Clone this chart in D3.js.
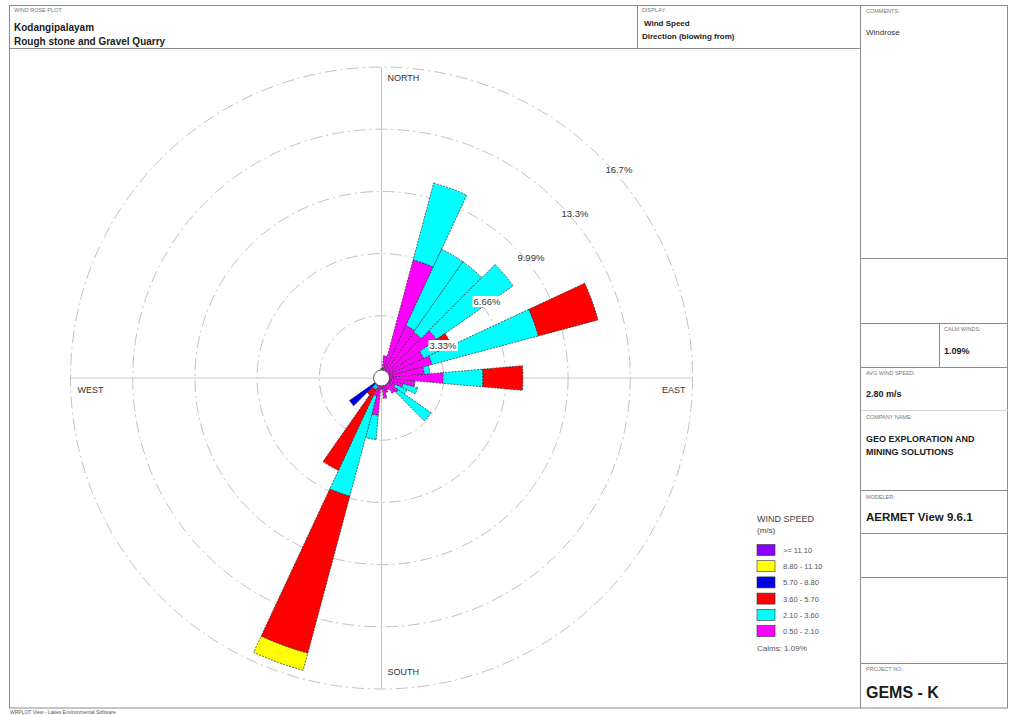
<!DOCTYPE html>
<html>
<head>
<meta charset="utf-8">
<script src="https://cdn.jsdelivr.net/npm/d3@7"></script>
<style>
  body { margin: 0; background: #fff; }
  svg { display: block; }
  text { font-family: "Liberation Sans", Arial, Helvetica, sans-serif; }
</style>
</head>
<body>
<svg id="chart" width="1009" height="715"></svg>
<script>
// Wind directions (blowing from), 10-degree sectors
const directions = d3.range(10, 361, 10);

// Frequency (%) of each wind speed class per direction, 10°..360°
const speed050to210 = [1.2, 6.55, 3.1, 3.0, 3.6, 2.5, 2.8, 2.3, 3.3, 1.8, 1.2, 0.8, 1.1, 1.0, 0.7, 0.8, 1.1, 0.6,
                       2.0, 1.0, 0.3, 0.4, 0.2, 0.4, 0.3, 0.3, 0.3, 0.3, 0.3, 0.3, 0.3, 0.3, 0.3, 0.3, 0.3, 0.5];
const speed210to360 = [0, 4.25, 4.5, 4.6, 5.0, 1.1, 5.9, 0.3, 2.13, 0, 0.8, 0.7, 2.15, 0, 0, 0, 0, 0,
                       1.3, 5.55, 0.4, 0.3, 0.1, 0, 0, 0, 0, 0, 0, 0, 0, 0, 0, 0, 0, 0];
const speed360to570 = [0, 0, 0, 0, 0, 0.55, 3.3, 0, 2.14, 0, 0, 0, 0, 0, 0, 0, 0, 0,
                       0, 8.7, 4.76, 0.4, 0.1, 0, 0, 0, 0, 0, 0, 0, 0, 0, 0, 0, 0, 0];
const speed570to880 = [0, 0, 0, 0, 0, 0, 0, 0, 0, 0, 0, 0, 0, 0, 0, 0, 0, 0,
                       0, 0, 0, 0, 1.7, 0, 0, 0, 0, 0, 0, 0, 0, 0, 0, 0, 0, 0];
const speed880to1110 = [0, 0, 0, 0, 0, 0, 0, 0, 0, 0, 0, 0, 0, 0, 0, 0, 0, 0,
                        0, 0.95, 0, 0, 0, 0, 0, 0, 0, 0, 0, 0, 0, 0, 0, 0, 0, 0];
const speedAbove1110 = new Array(36).fill(0);

const speedSeries = [speed050to210, speed210to360, speed360to570, speed570to880, speed880to1110, speedAbove1110];
const speedLabels = ["0.50 - 2.10", "2.10 - 3.60", "3.60 - 5.70", "5.70 - 8.80", "8.80 - 11.10", ">= 11.10"];
const speedColors = ["#ff00ff", "#00ffff", "#ff0000", "#0000e6", "#ffff00", "#8800ff"];

// Frequency rings
const ringValues = [3.33, 6.66, 9.99, 13.32, 16.65];
const ringLabels = ["3.33%", "6.66%", "9.99%", "13.3%", "16.7%"];
const compassLabels = ["NORTH", "EAST", "SOUTH", "WEST"];

const calmPercent = "1.09%";
const avgWindSpeed = "2.80 m/s";

const svg = d3.select("#chart");
const frameColor = "#8c8c8c";

// ---------- page frame ----------
const frame = svg.append("g").attr("fill", "none").attr("stroke", frameColor).attr("stroke-width", 1);
frame.append("rect").attr("x", 9.5).attr("y", 5.5).attr("width", 998).attr("height", 702.5);
const hLines = [[9.5, 860.5, 48.5], [860.5, 1008, 258.5], [860.5, 1008, 323.5], [860.5, 1008, 367.5],
                [860.5, 1008, 490.5], [860.5, 1008, 533.5], [860.5, 1008, 577.5], [860.5, 1008, 663.5]];
hLines.forEach(([x1, x2, y]) => frame.append("line").attr("x1", x1).attr("x2", x2).attr("y1", y).attr("y2", y));
frame.append("line").attr("x1", 860.5).attr("x2", 1008).attr("y1", 410.5).attr("y2", 410.5).attr("stroke", "#d8d8d8");
frame.append("line").attr("x1", 637.5).attr("x2", 637.5).attr("y1", 5.5).attr("y2", 48.5);
frame.append("line").attr("x1", 860.5).attr("x2", 860.5).attr("y1", 5.5).attr("y2", 708);
frame.append("line").attr("x1", 939.5).attr("x2", 939.5).attr("y1", 323.5).attr("y2", 367.5);

function txt(x, y, s, size, weight, color) {
  return svg.append("text").attr("x", x).attr("y", y).text(s)
    .attr("font-size", size).attr("font-weight", weight || "normal").attr("fill", color || "#1a1a1a");
}
const capColor = "#777";
txt(14, 12, "WIND ROSE PLOT:", 5.5, "normal", capColor);
txt(14, 31, "Kodangipalayam", 10, "bold");
txt(14, 44.5, "Rough stone and Gravel Quarry", 10, "bold");
txt(642, 12, "DISPLAY:", 5.5, "normal", capColor);
txt(644, 26, "Wind Speed", 8, "bold");
txt(642, 39, "Direction (blowing from)", 8, "bold");
txt(866, 13, "COMMENTS:", 5.5, "normal", capColor);
txt(866, 35, "Windrose", 8, "normal", "#333");
txt(944, 331, "CALM WINDS:", 5.5, "normal", capColor);
txt(944, 354, calmPercent, 9, "bold");
txt(866, 375, "AVG WIND SPEED:", 5.5, "normal", capColor);
txt(866, 397, avgWindSpeed, 9, "bold");
txt(866, 419, "COMPANY NAME:", 5.5, "normal", capColor);
txt(866, 442, "GEO EXPLORATION AND", 9, "bold");
txt(866, 455, "MINING SOLUTIONS", 9, "bold");
txt(866, 499, "MODELER:", 5.5, "normal", capColor);
txt(866, 521, "AERMET View 9.6.1", 11.5, "bold");
txt(866, 671, "PROJECT NO.:", 5.5, "normal", capColor);
txt(866, 698, "GEMS - K", 16, "bold");
txt(10, 713.5, "WRPLOT View - Lakes Environmental Software", 5, "normal", "#555");

// ---------- wind rose ----------
const cx = 381.5, cy = 378;
const rScale = d3.scaleLinear().domain([0, 16.65]).range([0, 311]);
const rose = svg.append("g").attr("transform", `translate(${cx},${cy})`);

// rings
rose.selectAll("circle.ring").data(ringValues).join("circle")
  .attr("class", "ring").attr("r", d => rScale(d))
  .attr("fill", "none").attr("stroke", "#c2c2c2").attr("stroke-width", 1)
  .attr("stroke-dasharray", "12,4,2,4");

// cross axes
const rMax = rScale(ringValues[ringValues.length - 1]);
rose.append("line").attr("x1", -rMax).attr("x2", rMax).attr("y1", 0).attr("y2", 0).attr("stroke", "#c8c8c8");
rose.append("line").attr("x1", 0).attr("x2", 0).attr("y1", -rMax).attr("y2", rMax).attr("stroke", "#c8c8c8");

// stacked petals
const rows = directions.map((dir, i) => {
  const row = { dir };
  speedSeries.forEach((s, k) => row["s" + k] = s[i]);
  return row;
});
const stack = d3.stack().keys(speedSeries.map((s, k) => "s" + k));
const layers = stack(rows);
const toRad = Math.PI / 180;
const arc = d3.arc()
  .innerRadius(d => rScale(d[0]))
  .outerRadius(d => rScale(d[1]))
  .startAngle(d => (d.data.dir - 5) * toRad)
  .endAngle(d => (d.data.dir + 5) * toRad);

rose.selectAll("g.layer").data(layers).join("g")
  .attr("class", "layer")
  .attr("fill", (d, k) => speedColors[k])
  .selectAll("path").data(d => d.filter(p => p[1] - p[0] > 0)).join("path")
  .attr("d", arc)
  .attr("stroke", "#262626").attr("stroke-width", 0.7).attr("stroke-dasharray", "2,1.2");

// calm circle
rose.append("circle").attr("r", 8).attr("fill", "#fff").attr("stroke", "#333").attr("stroke-width", 0.8);

// ring labels
const c45 = Math.cos(45 * toRad);
ringValues.forEach((v, i) => {
  const x = rScale(v) * c45 + 4, y = -rScale(v) * c45 + 15;
  const t = rose.append("text").attr("x", x).attr("y", y).text(ringLabels[i])
    .attr("font-size", 9.5).attr("fill", "#333");
  if (i < 2) {
    const b = t.node().getBBox();
    rose.insert("rect", "text:last-child").attr("x", b.x - 1).attr("y", b.y).attr("width", b.width + 2)
      .attr("height", b.height).attr("fill", "#fff");
  }
});

// compass labels
const compassPos = [[6, -rMax + 14, "start"], [rMax - 7, 15, "end"], [6, rMax - 14, "start"], [-rMax + 7, 15, "start"]];
compassLabels.forEach((s, i) => {
  rose.append("text").attr("x", compassPos[i][0]).attr("y", compassPos[i][1])
    .attr("text-anchor", compassPos[i][2]).text(s).attr("font-size", 9).attr("fill", "#333");
});

// ---------- legend ----------
const legend = svg.append("g").attr("transform", "translate(757,0)");
legend.append("text").attr("x", 0).attr("y", 522).text("WIND SPEED").attr("font-size", 9).attr("fill", "#444");
legend.append("text").attr("x", 0).attr("y", 533).text("(m/s)").attr("font-size", 8).attr("fill", "#444");
const order = d3.range(speedLabels.length).reverse();
const ly = d3.scalePoint().domain(order).range([550, 631]);
order.forEach(k => {
  legend.append("rect").attr("x", 0).attr("y", ly(k) - 5.5).attr("width", 18).attr("height", 11)
    .attr("fill", speedColors[k]).attr("stroke", "#333").attr("stroke-width", 0.6);
  legend.append("text").attr("x", 26).attr("y", ly(k) + 3).text(speedLabels[k])
    .attr("font-size", 7.5).attr("fill", "#555");
});
legend.append("text").attr("x", 0).attr("y", 651).text("Calms: " + calmPercent).attr("font-size", 8).attr("fill", "#555");
</script>
</body>
</html>
